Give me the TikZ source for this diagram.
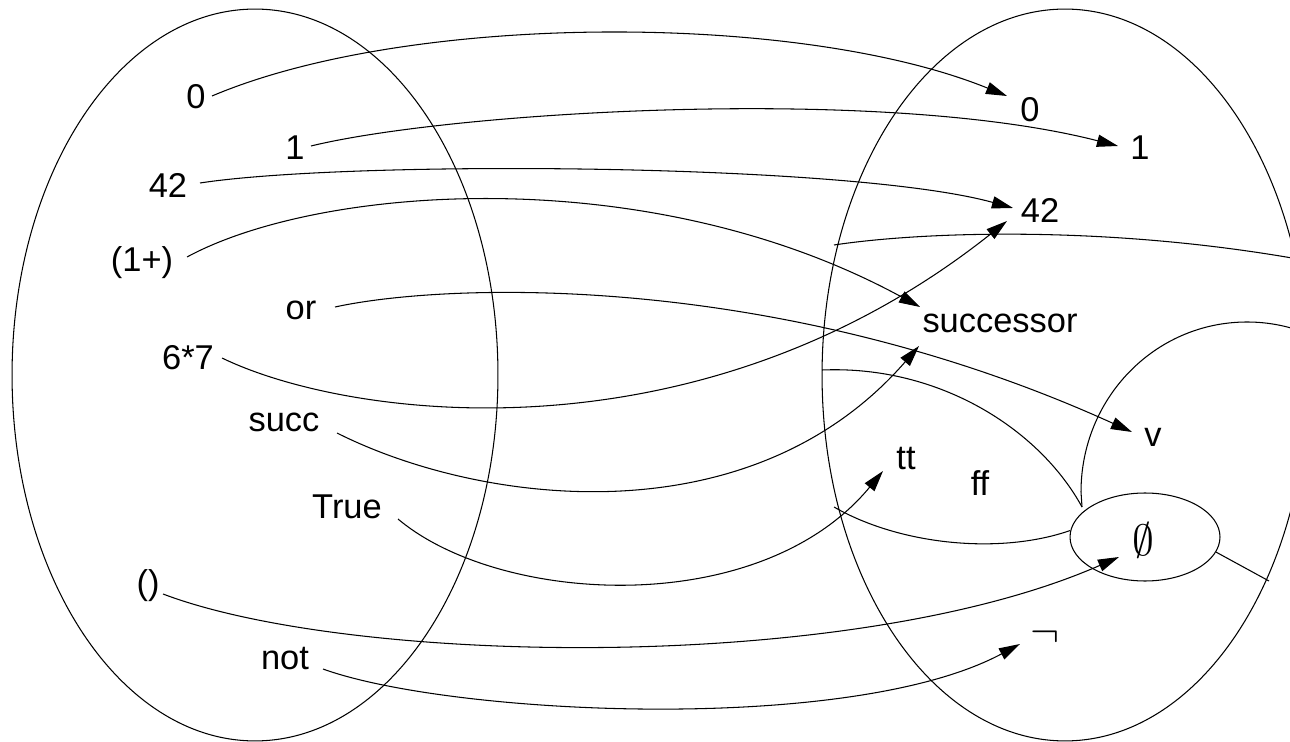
\documentclass[tikz,border=0pt]{standalone}
\usepackage{fontspec}
\setmainfont{Liberation Sans}
\usetikzlibrary{arrows.meta,shapes.geometric}
\begin{document}
\begin{tikzpicture}[x=0.02cm,y=-0.02cm,
  lbl/.style={inner sep=0pt, font=\fontsize{19.6}{23}\selectfont},
  arr/.style={-{Triangle[length=12pt,width=7pt]}, line width=0.6pt},
  ln/.style={line width=0.6pt}]
\useasboundingbox (0,0) rectangle (1290,742);
\clip (0,0) rectangle (1290,742);
% the two sets
\draw[ln] (255,375) ellipse [x radius=4.86cm, y radius=7.32cm];
\draw[ln] (1065,375) ellipse [x radius=4.86cm, y radius=7.32cm];
% left labels
\node[lbl] (l0) at (196,97) {0};
\node[lbl] (l1) at (295,148) {1};
\node[lbl] (l42) at (168,185) {42};
\node[lbl] (l1p) at (142,263) {(1+)};
\node[lbl] (lor) at (301,310) {or};
\node[lbl] (l67) at (188,358) {6*7};
\node[lbl] (lsucc) at (284,422) {succ};
\node[lbl] (ltrue) at (347,507) {True};
\node[lbl] (lunit) at (148,586) {()};
\node[lbl] (lnot) at (285,659) {not};
% right labels
\node[lbl] (r0) at (1030,110) {0};
\node[lbl] (r1) at (1140,148) {1};
\node[lbl] (r42) at (1040,210) {42};
\node[lbl] (rsucc) at (1000,323) {successor};
\node[lbl] (rv) at (1153,437) {v};
\node[lbl] (rtt) at (906,459) {tt};
\node[lbl] (rff) at (980,483) {ff};
\node[lbl, ellipse, draw, line width=0.6pt, minimum width=3cm, minimum height=1.76cm] (es) at (1145,537) {};
\node[lbl] (empt) at (1143,540) {\fontsize{25}{30}\selectfont$\emptyset$};
\node[lbl] (rneg) at (1045,637) {\fontsize{24}{28}\selectfont$\neg$};
% arrows
\draw[arr] ([shift={(16,-1)}]l0.center) .. controls (410,12) and (800,12) .. ([shift={(-23,-14)}]r0.center);
\draw[arr] ([shift={(16,-2)}]l1.center) .. controls (450,112) and (880,85) .. ([shift={(-22,-2)}]r1.center);
\draw[arr] ([shift={(32,-2)}]l42.center) .. controls (350,160) and (850,163) .. ([shift={(-27,-2)}]r42.center);
\draw[arr] ([shift={(45,-6)}]l1p.center) .. controls (320,185) and (650,160) .. ([shift={(-80,-16)}]rsucc.center);
\draw[arr] ([shift={(34,-3)}]lor.center) .. controls (450,282) and (780,272) .. ([shift={(-21,-5)}]rv.center);
\draw[arr] ([shift={(34,0)}]l67.center) .. controls (350,420) and (700,465) .. ([shift={(-33,11)}]r42.center);
\draw[arr] ([shift={(53,11)}]lsucc.center) .. controls (480,505) and (750,540) .. ([shift={(-81,23)}]rsucc.center);
\draw[arr] ([shift={(51,12)}]ltrue.center) .. controls (500,605) and (760,620) .. ([shift={(-23,12)}]rtt.center);
\draw[arr] ([shift={(15,8)}]lunit.center) .. controls (350,665) and (850,675) .. ([shift={(-26,20)}]es.center);
\draw[arr] ([shift={(38,10)}]lnot.center) .. controls (450,715) and (850,735) .. ([shift={(-25,7)}]rneg.center);
% region boundaries inside the right set
\coordinate (b1) at (834,245);
\coordinate (b2) at (1292,258);
\draw[ln] (b1) .. controls (920,232) and (1100,225) .. (b2);
\coordinate (vj) at (1082,507);
\coordinate (b3) at (822,370);
\draw[ln] (b3) .. controls (940,365) and (1040,430) .. (vj);
\draw[ln] (vj) -- (1081,492) .. controls (1081,398) and (1155,322) .. (1247,322) .. controls (1339,322) and (1413,398) .. (1413,492);
\coordinate (b4) at (834,507);
\draw[ln] (b4) .. controls (900,545) and (1000,555) .. (es.175);
\coordinate (b5) at (1269,581);
\draw[ln] (es.-12) -- (b5);
\end{tikzpicture}
\end{document}
